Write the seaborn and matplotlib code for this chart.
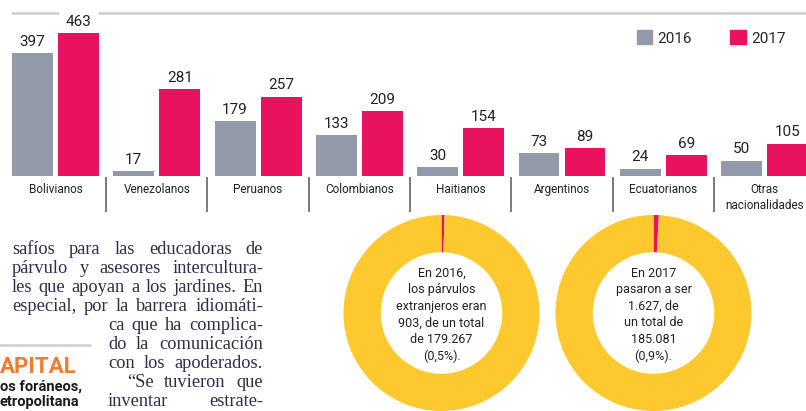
import numpy as np
import pandas as pd
import matplotlib
matplotlib.use("Agg")
import matplotlib.pyplot as plt
from matplotlib.lines import Line2D
from matplotlib.patches import Patch
import seaborn as sns

nationalities = ["Bolivianos", "Venezolanos", "Peruanos", "Colombianos",
                 "Haitianos", "Argentinos", "Ecuatorianos", "Otras\nnacionalidades"]
years = ["2016", "2017"]
counts_2016 = [397, 17, 179, 133, 30, 73, 24, 50]
counts_2017 = [463, 281, 257, 209, 154, 89, 69, 105]

donut_foreign = [903, 1627]
donut_total = [179267, 185081]
donut_texts = [
    "En 2016,\nlos párvulos\nextranjeros eran\n903, de un total\nde 179.267\n(0,5%).",
    "En 2017\npasaron a ser\n1.627, de\nun total de\n185.081\n(0,9%).",
]

body_lines = [
    "safíos para las educadoras de",
    "párvulo y asesores intercultura-",
    "les que apoyan a los jardines. En",
    "especial, por la barrera idiomáti-",
    "ca que ha complica-",
    "do la comunicación",
    "con los apoderados.",
    "\u201cSe tuvieron que",
    "inventar estrate-",
]
side_lines = ["APITAL", "os foráneos,", "etropolitana"]

GRAY = "#9299a8"
PINK = "#e8125f"
YELLOW = "#fdc92f"
INK = "#2c2e4c"

W, H = 806, 411
sns.set_theme(style="white")
plt.rcParams["font.family"] = ["Roboto", "DejaVu Sans"]

fig = plt.figure(figsize=(W / 100, H / 100), dpi=100)


def fx(x):
    return x / W


def fy(y):
    return 1 - y / H


# ---- grouped bars ----
px_per_unit = 0.309
pitch = 101.3
ax = fig.add_axes([0, fy(176), 1, 163 / H])
df = pd.DataFrame({
    "nac": nationalities * 2,
    "year": [years[0]] * 8 + [years[1]] * 8,
    "n": counts_2016 + counts_2017,
})
sns.barplot(data=df, x="nac", y="n", hue="year", palette=[GRAY, PINK],
            saturation=1, width=0.908, gap=0.109, linewidth=0,
            legend=False, ax=ax)
for cont in ax.containers:
    ax.bar_label(cont, padding=3, fontsize=11, color="#222222")
ax.set_xlim(-55.5 / pitch, (W - 55.5) / pitch)
ax.set_ylim(0, 163 / px_per_unit)
ax.set_xlabel("")
ax.set_ylabel("")
ax.set_yticks([])
ax.tick_params(axis="x", length=0, pad=5, labelsize=8.5, labelcolor="#222222")
for lab in ax.get_xticklabels():
    lab.set_linespacing(1.3)
sns.despine(ax=ax, left=True, bottom=True)

# separators between groups
sep_top = -1 / px_per_unit
sep_bot = -36 / px_per_unit
ax.vlines(np.arange(len(nationalities) - 1) + 0.5, sep_bot, sep_top,
          color="#7a7a7a", lw=1.4, clip_on=False)

# top rule, broken by the tallest label
for x0, x1 in [(12, 58), (99, W)]:
    fig.add_artist(Line2D([fx(x0), fx(x1)], [fy(13), fy(13)],
                          color="#cfcfcf", lw=1.8))

fig.legend(handles=[Patch(color=GRAY, label=years[0]),
                    Patch(color=PINK, label=years[1])],
           loc="center left", bbox_to_anchor=(fx(637), fy(38)), ncol=2,
           frameon=False, fontsize=11, handlelength=1.0, handleheight=1.0,
           handletextpad=0.35, columnspacing=2.5, borderpad=0, borderaxespad=0)

# ---- donuts ----
for i, (cx, cy) in enumerate([(441.5, 313), (653.5, 313)]):
    r = 98
    dax = fig.add_axes([fx(cx - r), fy(cy + r), 2 * r / W, 2 * r / H])
    frac = donut_foreign[i] / donut_total[i]
    dax.pie([frac, 1 - frac], colors=[PINK, YELLOW], startangle=90,
            counterclock=False, radius=1, wedgeprops=dict(width=0.38, linewidth=0))
    dax.set_xlim(-1, 1)
    dax.set_ylim(-1, 1)
    dax.text(0, -0.02, donut_texts[i], ha="center", va="center", fontsize=9,
             color="#222222", linespacing=1.35)

# ---- newspaper body text (justified) ----
renderer = fig.canvas.get_renderer()
line_x = [12, 12, 12, 12, 108, 108, 108, 127, 108]
for k, line in enumerate(body_lines):
    y = 249 + 19.1 * k
    words = line.split(" ")
    arts = [fig.text(0, fy(y), w, fontsize=13.2, color=INK, va="center",
                     family="Liberation Serif") for w in words]
    widths = [a.get_window_extent(renderer).width for a in arts]
    space = (263 - line_x[k] - sum(widths)) / max(len(words) - 1, 1)
    space = max(space, 2.5)
    x = line_x[k]
    for a, w in zip(arts, widths):
        a.set_x(fx(x))
        x += w + space

fig.add_artist(Line2D([0, fx(90)], [fy(345), fy(345)], color="#cfcfcf", lw=1.8))
fig.text(0, fy(367), side_lines[0], fontsize=16, weight="bold",
         color="#f47a32", va="center")
fig.text(0, fy(387), side_lines[1], fontsize=10.5, weight="bold",
         color="#1a1a1a", va="center")
fig.text(0, fy(402), side_lines[2], fontsize=10.5, weight="bold",
         color="#1a1a1a", va="center")

fig.savefig("out.png", dpi=100)
